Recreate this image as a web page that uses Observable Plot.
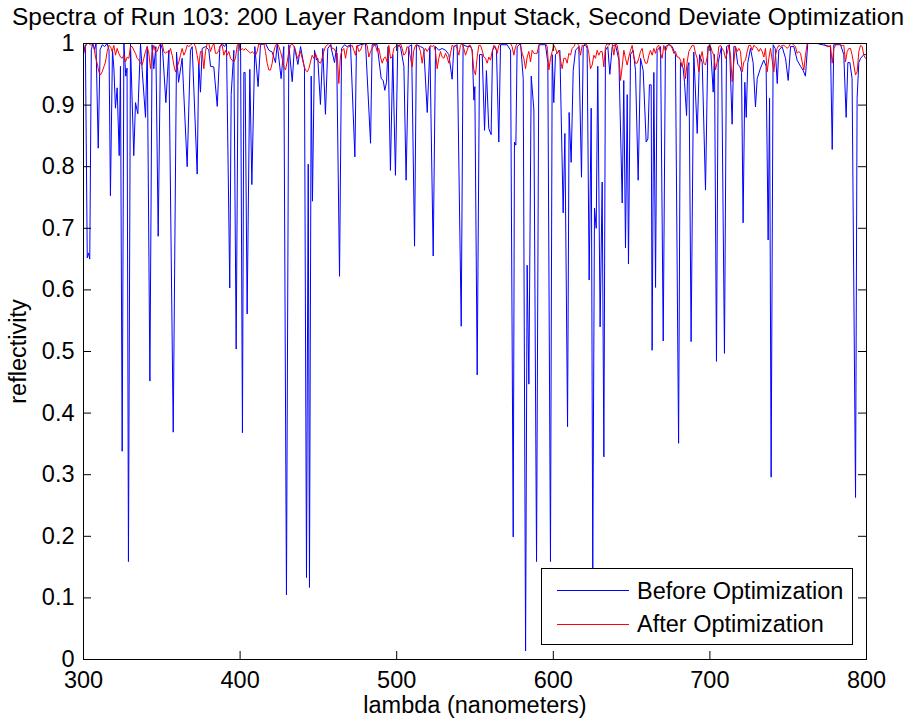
<!DOCTYPE html>
<html>
<head>
<meta charset="utf-8">
<script src="https://cdn.jsdelivr.net/npm/d3@7"></script>
<script src="https://cdn.jsdelivr.net/npm/@observablehq/plot@0.6"></script>
<style>
  html, body { margin: 0; padding: 0; background: #fff; overflow: hidden; }
  #wrap { position: relative; width: 916px; height: 719px; font-family: "Liberation Sans", Arial, Helvetica, sans-serif; color: #000; }
  #title { position: absolute; left: 0; top: 3px; width: 916px; text-align: center; font-size: 24.5px; line-height: 28px; white-space: nowrap; }
  #legend { position: absolute; left: 541px; top: 568px; width: 310px; height: 75px; border: 1px solid #000; background: #fff; box-sizing: content-box; }
  .row { position: absolute; left: 0; width: 310px; height: 28px; }
  .swatch { position: absolute; left: 15px; top: 13.5px; width: 72px; height: 1px; }
  .lbl { position: absolute; left: 95px; top: 0; font-size: 23.5px; line-height: 28px; white-space: nowrap; }
</style>
</head>
<body>
<div id="wrap">
  <div id="chart"></div>
  <div id="title"></div>
  <div id="legend"></div>
</div>
<script>
// ---- text ----
const chartTitle = "Spectra of Run 103: 200 Layer Random Input Stack, Second Deviate Optimization";
const xLabel = "lambda (nanometers)";
const yLabel = "reflectivity";
const seriesNames = ["Before Optimization", "After Optimization"];
const seriesColors = ["#0000ff", "#ff0000"];

// ---- ticks ----
const xTickValues = [300, 400, 500, 600, 700, 800];
const yTickValues = [0, 0.1, 0.2, 0.3, 0.4, 0.5, 0.6, 0.7, 0.8, 0.9, 1];

// ---- Before Optimization: [lambda (nm), reflectivity] ----
const beforeSpectrum = [
  [300.0,0.985],[301.2,0.998],[302.4,0.652],[303.2,0.66],[304.0,0.650],[305.0,0.99],[306.0,1.0],[307.0,0.99],[308.0,1.0],[309.4,0.83],
  [310.6,0.99],[312.0,0.998],[313.5,0.995],[315.0,1.0],[316.3,0.99],[317.2,0.753],[318.5,0.99],[319.4,0.96],[320.4,0.895],[321.5,0.928],
  [322.8,0.818],[323.6,0.963],[324.7,0.338],[325.8,1.0],[327.0,0.947],[327.8,0.96],[328.7,0.159],[330.0,1.0],[332.1,0.818],[333.2,0.904],
  [334.7,0.886],[336.4,1.0],[337.5,0.956],[339.6,0.88],[340.7,0.995],[342.4,0.452],[343.8,0.998],[344.9,0.959],[346.2,0.995],[347.7,0.687],
  [349.2,1.0],[350.5,0.99],[352.6,0.904],[354.5,0.989],[357.3,0.369],[359.4,0.986],[360.7,0.937],[363.0,0.976],[366.2,0.80],[368.3,0.989],
  [369.4,0.995],[372.6,0.788],[373.6,0.969],[374.7,0.921],[375.8,0.992],[377.9,0.995],[380.0,0.99],[381.1,0.963],[383.2,0.962],
  [385.4,0.898],[387.1,0.995],[388.5,1.0],[390.0,0.995],[391.3,1.0],[393.4,0.603],[394.3,0.917],[396.0,0.989],[397.5,0.504],[398.8,1.0],
  [400.3,1.0],[401.5,0.368],[402.4,0.953],[403.2,0.953],[404.5,0.561],[406.2,0.958],[407.5,0.771],[409.4,0.995],[411.5,0.930],[413.0,0.998],
  [416.2,1.0],[418.4,0.989],[420.5,0.986],[422.6,0.969],[423.7,1.0],[426.2,0.943],[427.9,0.995],[429.6,0.105],[431.1,0.998],[433.3,0.938],
  [434.7,0.995],[436.9,0.966],[438.6,0.995],[441.1,0.96],[442.4,0.133],[443.5,0.804],[444.3,0.117],[445.4,0.947],[446.2,0.744],[447.5,0.989],
  [448.8,0.973],[449.6,0.976],[451.3,0.901],[452.8,0.992],[454.5,0.885],[456.0,0.992],[457.7,0.998],[460.3,0.969],[461.6,0.995],[463.5,0.622],
  [464.8,0.992],[466.7,0.998],[468.4,0.995],[470.5,0.998],[473.3,0.816],[474.3,0.995],[476.9,0.998],[480.1,1.0],[483.3,0.838],[484.3,0.998],
  [487.5,0.998],[490.1,0.943],[491.4,0.94],[492.4,0.924],[493.5,0.937],[494.5,0.995],[496.0,0.794],[497.5,0.982],[499.2,0.786],[500.7,0.998],
  [502.4,0.995],[504.6,0.963],[506.0,0.778],[507.7,0.995],[509.5,0.998],[511.4,0.671],[512.6,0.998],[515.2,0.995],[517.3,0.992],[519.5,0.888],
  [521.2,0.995],[523.3,0.655],[524.8,0.995],[526.9,0.989],[529.0,0.992],[531.2,0.989],[533.3,0.982],[535.4,0.942],[536.5,0.995],[538.6,0.998],
  [541.2,0.541],[542.4,0.998],[545.0,0.995],[547.1,0.995],[548.2,0.99],[549.3,0.908],[549.9,0.93],[551.4,0.462],[552.9,0.982],[554.6,0.982],
  [556.1,0.859],[557.3,0.956],[558.8,0.862],[560.3,0.852],[561.2,0.989],[562.5,0.995],[563.7,0.989],[565.2,0.84],[566.3,0.998],[570.5,0.998],
  [572.7,0.989],[574.4,0.199],[575.2,0.84],[576.1,0.835],[576.9,0.995],[579.1,1.0],[580.8,0.943],[582.3,0.014],[583.3,0.64],[584.4,0.447],
  [585.9,0.947],[587.6,0.892],[589.3,0.159],[590.8,0.998],[595.0,0.998],[596.5,0.969],[598.2,0.159],[599.3,0.982],[600.3,0.904],[601.4,0.982],
  [604.2,0.989],[606.3,0.725],[607.4,0.854],[609.1,0.378],[610.1,0.888],[611.4,0.807],[612.7,0.956],[614.2,0.989],[616.3,0.995],[618.0,0.783],
  [619.1,0.995],[620.6,0.998],[621.6,0.992],[622.9,0.616],[624.2,0.895],[625.2,0.146],[626.3,0.733],[627.4,0.700],[628.4,0.963],[629.9,0.54],
  [631.2,0.775],[632.3,0.329],[633.3,0.989],[634.8,0.995],[636.1,0.95],[637.6,0.995],[639.7,0.998],[641.9,0.973],[644.0,0.741],[645.0,0.94],
  [646.1,0.668],[647.2,0.917],[648.0,0.642],[649.3,0.982],[651.0,0.989],[652.5,0.956],[654.2,0.778],[655.7,0.976],[657.4,0.956],[659.3,0.84],
  [660.4,0.845],[661.4,0.933],[662.5,0.933],[663.1,0.502],[664.2,0.953],[665.3,0.604],[666.3,0.989],[668.5,0.995],[670.2,0.517],[671.6,0.995],
  [673.8,0.998],[675.9,0.995],[678.0,0.982],[680.0,0.351],[681.2,0.969],[682.9,0.96],[683.8,0.937],[685.1,0.883],[685.9,0.963],[686.6,0.969],
  [688.0,0.516],[689.7,0.986],[691.9,0.854],[693.4,0.982],[695.1,0.969],[697.2,0.762],[698.7,0.995],[700.4,0.995],[702.1,0.921],[702.9,0.982],
  [704.2,0.484],[705.3,0.969],[706.3,0.982],[707.4,0.995],[709.3,0.497],[710.6,0.995],[712.5,0.998],[714.2,0.869],[715.3,0.995],[716.3,0.995],
  [717.8,0.966],[719.1,0.963],[720.2,0.953],[721.2,0.709],[722.3,0.937],[723.2,0.88],[724.2,0.969],[725.9,0.992],[727.6,0.969],[729.1,0.897],
  [730.2,0.943],[732.3,0.96],[734.4,0.973],[735.9,0.963],[737.2,0.681],[738.1,0.911],[739.1,0.296],[740.4,0.998],[741.7,0.992],[743.0,0.935],
  [744.0,0.989],[746.1,0.995],[748.3,0.976],[750.0,0.94],[751.5,0.995],[753.6,0.995],[755.7,0.973],[757.9,0.963],[759.6,0.956],[761.0,0.947],
  [762.5,1.0],[768.5,1.0],[777.0,0.995],[778.1,0.828],[779.1,0.998],[783.4,0.998],[785.5,0.982],[787.0,0.88],[788.1,0.969],[789.4,0.969],
  [790.8,0.943],[793.0,0.263],[794.0,0.911],[795.1,0.969],[796.2,0.976],[798.3,0.982],[800.0,0.982]
];

// ---- After Optimization: reflectivity read on a regular grid (start 300.2 nm, step 1.064 nm) ----
const afterStartNm = 300.21;
const afterStepNm = 1.0643;
const afterR = [
  .984,.995,1.0,1.0,.998,.997,.995,.978,.968,.954, .949,.954,.962,.970,.987,.997,.995,.987,.997,.981,
  .992,.984,.978,.976,.981,.970,.978,.976,.995,.995, .989,.984,.976,.973,.968,.965,.976,.987,.995,.984,
  .959,.984,.997,.987,.987,.995,1.0,1.0,.987,.984, .987,.984,.992,.981,.965,.954,.962,.970,.981,.992,
  .981,.987,.997,.995,.997,1.0,1.0,.995,.981,.965, .987,.987,.959,.987,1.0,1.0,
  .987,.995,1.0,.984,.984,.989,.997,.997,.981,.989, .981,.987,.976,.973,.970,.976,.997,1.0,.989,.992,
  .989,.992,.989,.987,.984,.987,.984,.981,.987,1.0, .997,1.0,1.0,.987,.968,.957,.957,.968,.987,.997,
  1.0,.995,.987,.976,.962,.957,.970,.987,.997,1.0, .995,.989,.976,.981,.987,.976,.965,.957,.954,.959,
  .970,.981,.976,.984,.976,.970,.968,.976,.987,.995, .997,1.0,1.0,.992,.992,.987,.984,.935,
  .981,.989,.992,.976,.992,.995,.995,.997,.989,.981, .997,.987,.989,.997,1.0,1.0,.997,.978,.987,.992,
  .997,.997,.987,.992,.978,.968,.976,.978,.970,.997, .976,.978,.992,.995,.997,.995,1.0,.992,.981,.984,
  .995,.992,.976,.962,.989,.997,.997,.995,.987,.968, .987,.992,.987,.992,.997,.995,.997,.987,.959,.976,
  .987,.978,.976,.984,.978,.968,.984,.997,.995,.997, .992,.981,.997,1.0,.992,.981,.989,.997,
  .997,.987,.957,.949,.978,.997,.997,.989,.978,.976, .968,.978,.973,.987,.997,.995,.984,.997,1.0,1.0,
  1.0,1.0,1.0,1.0,1.0,.995,.981,.995,1.0,1.0, .997,.984,.976,.959,.978,.987,.970,.989,.984,.984,
  .984,.997,1.0,1.0,1.0,1.0,.995,.957,.976,.987, .997,.992,.984,.989,.973,.959,.976,.976,.968,.984,
  .981,.992,.995,1.0,1.0,.997,.981,.997,.997,1.0, .997,.984,.959,.965,.981,.976,.989,.981,
  .987,.987,.962,.995,1.0,.997,1.0,1.0,.981,1.0, .997,.981,.940,.962,.989,.976,.965,.978,.989,.997,
  .978,.968,.968,.976,.987,.992,.976,.968,.968,.981, .989,.981,.992,.984,.995,.997,.984,.976,.997,.987,
  .995,1.0,.997,.992,.984,.987,.978,.978,.973,.962, .976,.943,.970,.987,.992,.997,.997,.984,.976,.954,
  .976,.987,.968,.965,.978,.997,.995,.987,.981,.957, .970,.995,.997,.992,.987,.976,.984,.997,
  .981,.938,.970,.995,.987,.992,.987,.954,.970,.973, .987,.997,.997,.989,.997,.995,.992,.987,.992,.987,
  .978,.992,.954,.976,.992,.973,.954,.981,.992,.997, .995,.997,.997,.995,.992,.995,1.0,1.0,.997,.995,
  .984,.987,.984,.970,.957,.981,1.0,1.0,1.0,1.0, 1.0,1.0,1.0,1.0,1.0,1.0,1.0,.997,.995,.995,
  .997,.968,.992,.997,1.0,1.0,.997,.997,.997,.970, .987,.992,.992,.981,.965,.949,.954,.987,.997,.995,
  .981,.976
];

const before = beforeSpectrum.map(([lambda, r]) => ({lambda, r}));
const after = afterR.map((r, i) => ({lambda: afterStartNm + i * afterStepNm, r}));

const W = 916, H = 719;
const mL = 83, mR = 50, mT = 43, mB = 60;
const innerW = W - mL - mR, innerH = H - mT - mB;
const tickLen = 8;

const chart = Plot.plot({
  width: W, height: H,
  marginLeft: mL, marginRight: mR, marginTop: mT, marginBottom: mB,
  style: {fontFamily: "'Liberation Sans', Arial, Helvetica, sans-serif", fontSize: "23.5px", background: "white", color: "black", overflow: "visible"},
  x: {type: "linear", domain: [300, 800]},
  y: {type: "linear", domain: [0, 1]},
  marks: [
    Plot.line(before, {x: "lambda", y: "r", stroke: seriesColors[0], strokeWidth: 1}),
    Plot.line(after, {x: "lambda", y: "r", stroke: seriesColors[1], strokeWidth: 1}),
    Plot.frame({stroke: "black", strokeWidth: 1}),
    // inward tick marks on all four sides
    Plot.tickX(xTickValues, {x: d => d, insetTop: innerH - tickLen, stroke: "black"}),
    Plot.tickX(xTickValues, {x: d => d, insetBottom: innerH - tickLen, stroke: "black"}),
    Plot.tickY(yTickValues, {y: d => d, insetRight: innerW - tickLen, stroke: "black"}),
    Plot.tickY(yTickValues, {y: d => d, insetLeft: innerW - tickLen, stroke: "black"}),
    Plot.axisX({ticks: xTickValues, tickSize: 0, tickPadding: 12, tickFormat: d3.format("d"),
      label: xLabel, labelAnchor: "center", labelOffset: 53, labelArrow: "none"}),
    Plot.axisY({ticks: yTickValues, tickSize: 0, tickPadding: 9, tickFormat: d3.format("~g"),
      label: yLabel, labelAnchor: "center", labelOffset: 74, labelArrow: "none"})
  ]
});
document.getElementById("chart").appendChild(chart);

document.getElementById("title").textContent = chartTitle;

const legend = document.getElementById("legend");
seriesNames.forEach((name, i) => {
  const row = document.createElement("div");
  row.className = "row";
  row.style.top = (i === 0 ? 7.5 : 41) + "px";
  const sw = document.createElement("div");
  sw.className = "swatch";
  sw.style.background = seriesColors[i];
  const lb = document.createElement("div");
  lb.className = "lbl";
  lb.textContent = name;
  row.appendChild(sw);
  row.appendChild(lb);
  legend.appendChild(row);
});
</script>
</body>
</html>
